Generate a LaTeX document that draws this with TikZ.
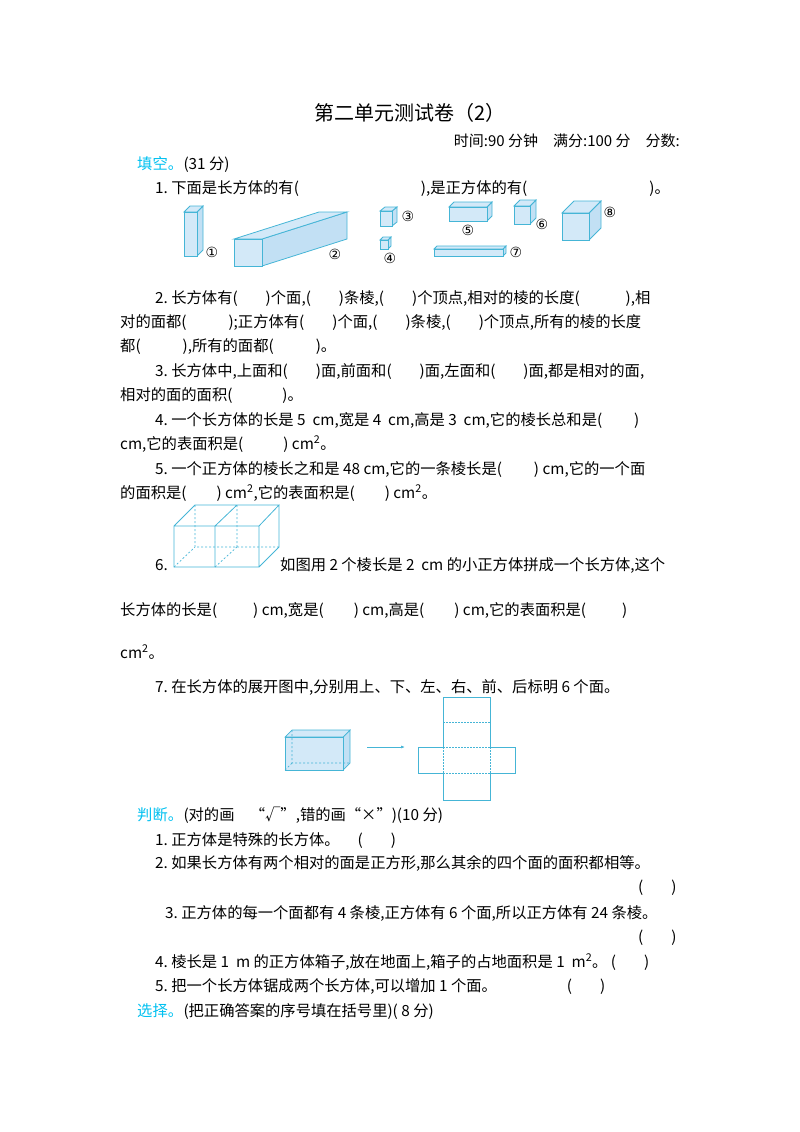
\documentclass[tikz,border=0pt]{standalone}
\usepackage{fontspec}
\usetikzlibrary{arrows.meta}
\setmainfont{Noto Sans CJK SC}
\newfontfamily\sym{DejaVu Sans}
\definecolor{edge}{HTML}{45B5D6}
\definecolor{face}{HTML}{D3E9F8}
\definecolor{face2}{HTML}{C2E0F4}
\definecolor{cyanhd}{HTML}{00C0F0}
\newcommand{\cub}[7]{% x y w h dx dy name
 \fill[face2,draw=edge,line width=0.8pt] (#1+#3,#2)--(#1+#3+#5,#2-#6)--(#1+#3+#5,#2+#4-#6)--(#1+#3,#2+#4)--cycle;
 \fill[face,draw=edge,line width=0.8pt] (#1,#2)--(#1+#5,#2-#6)--(#1+#3+#5,#2-#6)--(#1+#3,#2)--cycle;
 \node[draw=edge,fill=face,line width=0.8pt,minimum width=#3pt,minimum height=#4pt,inner sep=0,anchor=north west] (#7) at (#1,#2) {};}
\begin{document}
\begin{tikzpicture}[x=1pt,y=-1pt,
 t/.style={anchor=base west,inner sep=0,font=\fontsize{15.3}{15.3}\selectfont},
 hd/.style={t,text=cyanhd},
 lbl/.style={inner sep=0,font=\sym\fontsize{14}{14}\selectfont},
 ln/.style={draw=edge,line width=0.8pt},
 dl/.style={draw=edge,line width=0.7pt,dashed,dash pattern=on 2pt off 2pt}]
\useasboundingbox (0,0) rectangle (800,1132);
\node[anchor=base,inner sep=0,font=\fontsize{20}{20}\selectfont] (title) at (410,120) {第二单元测试卷（2）};
\node[anchor=base east,inner sep=0,font=\fontsize{15}{15}\selectfont] (time) at (680,146) {时间:90 分钟\quad 满分:100 分\quad 分数:};
\node[hd] (h1) at (137,169) {填空。};
\node[t,anchor=base west] (h1b) at (h1.base east) {(31 分)};
\node[t] (q1) at (155,193) {1.\ 下面是长方体的有(\hspace{122pt}),是正方体的有(\hspace{122pt})。};
% solids
\cub{184}{212}{13}{44}{6}{6}{s1}
\cub{234}{239}{28}{27}{85}{27}{s2}
\cub{380}{211}{12}{15}{5}{4}{s3}
\cub{380}{240}{8}{9}{3}{3}{s4}
\cub{449}{207}{38}{14}{5}{5}{s5}
\cub{514}{206}{16}{18}{6}{6}{s6}
\cub{434}{249}{69}{7}{3}{3}{s7}
\cub{562}{213}{27}{27}{12}{12}{s8}
\node[lbl] (l1) at (212,252) {①};
\node[lbl] (l2) at (335,254) {②};
\node[lbl] (l3) at (408,216) {③};
\node[lbl] (l4) at (390,258) {④};
\node[lbl] (l5) at (468,230) {⑤};
\node[lbl] (l6) at (542,224) {⑥};
\node[lbl] (l7) at (516,252) {⑦};
\node[lbl] (l8) at (610,212) {⑧};
\node[t] (q2a) at (155,303) {2.\ 长方体有(\hspace{28pt})个面,(\hspace{28pt})条棱,(\hspace{28pt})个顶点,相对的棱的长度(\hspace{46pt}),相};
\node[t] (q2b) at (120,327) {对的面都(\hspace{42pt});正方体有(\hspace{28pt})个面,(\hspace{28pt})条棱,(\hspace{28pt})个顶点,所有的棱的长度};
\node[t] (q2c) at (120,351) {都(\hspace{42pt}),所有的面都(\hspace{42pt})。};
\node[t] (q3a) at (155,376) {3.\ 长方体中,上面和(\hspace{28pt})面,前面和(\hspace{28pt})面,左面和(\hspace{28pt})面,都是相对的面,};
\node[t] (q3b) at (120,400) {相对的面的面积(\hspace{50pt})。};
\node[t] (q4a) at (155,425) {4.\ 一个长方体的长是 5\ \ cm,宽是 4\ \ cm,高是 3\ \ cm,它的棱长总和是(\hspace{32pt})};
\node[t] (q4b) at (120,449) {cm,它的表面积是(\hspace{40pt}) cm\textsuperscript{2}。};
\node[t] (q5a) at (155,474) {5.\ 一个正方体的棱长之和是 48\ cm,它的一条棱长是(\hspace{32pt}) cm,它的一个面};
\node[t] (q5b) at (120,498) {的面积是(\hspace{30pt}) cm\textsuperscript{2},它的表面积是(\hspace{30pt}) cm\textsuperscript{2}。};
% figure 6
\draw[dl] (195,505)--(195,547)--(279,547) (237,505)--(237,547) (174,567)--(195,547) (215,567)--(237,547);
\draw[ln] (174,526) rectangle (259,567) (215,526)--(215,567)
 (174,526)--(195,505)--(279,505)--(259,526) (215,526)--(237,505) (279,505)--(279,547)--(259,567);
\node[t] (q6a) at (155,570) {6.};
\node[t] (q6b) at (280,570) {如图用 2 个棱长是 2\ \ cm 的小正方体拼成一个长方体,这个};
\node[t] (q6c) at (120,615) {长方体的长是(\hspace{36pt}) cm,宽是(\hspace{30pt}) cm,高是(\hspace{30pt}) cm,它的表面积是(\hspace{36pt})};
\node[t] (q6d) at (120,658) {cm\textsuperscript{2}。};
\node[t] (q7) at (155,692) {7.\ 在长方体的展开图中,分别用上、下、左、右、前、后标明 6 个面。};
% figure 7
\fill[face2,draw=edge,line width=0.7pt] (343,737)--(350,730)--(350,763)--(343,770)--cycle;
\fill[face,draw=edge,line width=0.7pt] (285,737)--(292,730)--(350,730)--(343,737)--cycle;
\node[draw=edge,fill=face,line width=0.7pt,minimum width=58pt,minimum height=33pt,inner sep=0,anchor=north west] (box7) at (285,737) {};
\draw[dl] (292,730)--(292,763)--(350,763) (292,763)--(285,770);
\coordinate (a1) at (367,747);
\coordinate (a2) at (405,747);
\draw[edge,line width=0.7pt,-{Latex[length=4pt,width=3pt]}] (a1)--(a2);
\draw[ln,line width=0.7pt] (443,697) rectangle (490,800);
\draw[ln,line width=0.7pt] (443,747)--(418,747)--(418,773)--(443,773) (490,747)--(515,747)--(515,773)--(490,773);
\draw[dl,dash pattern=on 1.5pt off 1.5pt] (443,722)--(490,722) (443,747)--(490,747) (443,773)--(490,773);
\fill[white] (442,748) rectangle (444,772) (489,748) rectangle (491,772);
\draw[dl,dash pattern=on 1.5pt off 1.5pt] (443,747)--(443,773) (490,747)--(490,773);
% judge
\node[hd] (h2) at (137,820) {判断。};
\node[t] (h2b) at (h2.base east) {(对的画\quad “√”,错的画“×”)(10 分)};
\node[t] (j1) at (155,845) {1.\ 正方体是特殊的长方体。\hspace{18pt}(\hspace{28pt})};
\node[t] (j2) at (155,868) {2.\ 如果长方体有两个相对的面是正方形,那么其余的四个面的面积都相等。};
\node[t] (j2b) at (638,892) {(\hspace{28pt})};
\node[t] (j3) at (165,918) {3.\ 正方体的每一个面都有 4 条棱,正方体有 6 个面,所以正方体有 24 条棱。};
\node[t] (j3b) at (638,942) {(\hspace{28pt})};
\node[t] (j4) at (155,967) {4.\ 棱长是 1\ \ m 的正方体箱子,放在地面上,箱子的占地面积是 1\ \ m\textsuperscript{2}。\ (\hspace{28pt})};
\node[t] (j5) at (155,991) {5.\ 把一个长方体锯成两个长方体,可以增加 1 个面。\hspace{70pt}(\hspace{28pt})};
\node[hd] (h3) at (137,1016) {选择。};
\node[t] (h3b) at (h3.base east) {(把正确答案的序号填在括号里)(\ 8 分)};
\end{tikzpicture}
\end{document}
